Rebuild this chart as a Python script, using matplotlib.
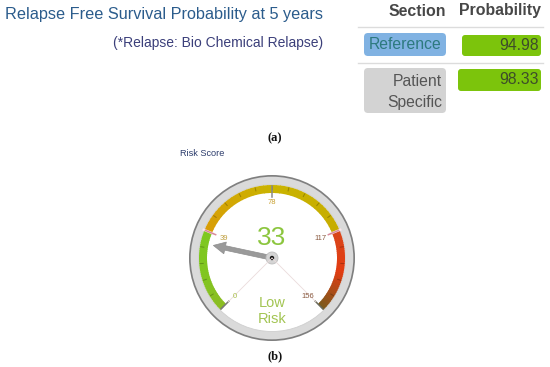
import numpy as np
import matplotlib
matplotlib.use('Agg')
import matplotlib.pyplot as plt
from matplotlib.patches import Wedge, Circle, FancyBboxPatch, FancyArrow
from matplotlib.colors import to_rgb

# ---------------- data ----------------
title = "Relapse Free Survival Probability at 5 years"
subtitle = "(*Relapse: Bio Chemical Relapse)"
table_headers = ["Section", "Probability"]
sections = ["Reference", "Patient\nSpecific"]
probabilities = [94.98, 98.33]
gauge_title = "Risk Score"
gauge_min, gauge_max = 0, 156
gauge_ticks = [0, 39, 78, 117, 156]
band_edges = [0, 39, 117, 156]
risk_score = 33
risk_level = "Low\nRisk"
panel_labels = ["(a)", "(b)"]

# ---------------- figure ----------------
W, H = 550, 367
fig = plt.figure(figsize=(5.5, 3.67), dpi=100)
ax = fig.add_axes([0, 0, 1, 1])
ax.set_xlim(0, W)
ax.set_ylim(0, H)
ax.set_aspect('equal')
ax.axis('off')


def Y(y):
    return H - y


sans = ['Liberation Sans', 'DejaVu Sans']
serif = ['Liberation Serif', 'DejaVu Serif']

# ---------------- panel (a) ----------------
ax.text(5, Y(15), title, fontsize=11.7, color='#2b5c8c', family=sans,
        ha='left', va='center')
ax.text(323, Y(43), subtitle, fontsize=10.0, color='#3b3f7a', family=sans,
        ha='right', va='center')

# table header
ax.text(446, Y(11), table_headers[0], ha='right', va='center', fontsize=11.4,
        fontweight='bold', color='#474747', family=sans)
ax.text(541, Y(11), table_headers[1], ha='right', va='center', fontsize=11.4,
        fontweight='bold', color='#474747', family=sans)
for yl in (27, 63):
    ax.plot([358, 543], [Y(yl), Y(yl)], color='#dcdcdc', lw=1.0)

sec_styles = [
    dict(y0=33, y1=56, fc='#80b2e2', tc='#2d7a7e'),
    dict(y0=68, y1=113, fc='#d3d3d3', tc='#555555'),
]
prob_styles = [
    dict(x0=462, y0=35, y1=56),
    dict(x0=458, y0=69, y1=91),
]
fs_cell = 11.3
for name, prob, ss, ps in zip(sections, probabilities, sec_styles, prob_styles):
    bx = FancyBboxPatch((364, Y(ss['y1'])), 82, ss['y1'] - ss['y0'],
                        boxstyle='round,pad=0,rounding_size=4',
                        fc=ss['fc'], ec='none')
    ax.add_patch(bx)
    lines = name.split('\n')
    if len(lines) == 1:
        ax.text(442, Y((ss['y0'] + ss['y1']) / 2), name, ha='right', va='center',
                fontsize=fs_cell, color=ss['tc'], family=sans)
    else:
        ax.text(442, Y(81), lines[0], ha='right', va='center',
                fontsize=fs_cell, color=ss['tc'], family=sans)
        ax.text(442, Y(102), lines[1], ha='right', va='center',
                fontsize=fs_cell, color=ss['tc'], family=sans)
    gb = FancyBboxPatch((ps['x0'], Y(ps['y1'])), 541 - ps['x0'], ps['y1'] - ps['y0'],
                        boxstyle='round,pad=0,rounding_size=3',
                        fc='#7cc40c', ec='none')
    ax.add_patch(gb)
    ax.text(539, Y((ps['y0'] + ps['y1']) / 2), f"{prob:.2f}", ha='right', va='center',
            fontsize=fs_cell, color='#3d4d2a', family=sans)

ax.text(275, Y(138), panel_labels[0], ha='center', va='center', fontsize=9,
        fontweight='bold', color='#111111', family=serif)

# ---------------- panel (b): gauge ----------------
ax.text(202, Y(154), gauge_title, ha='center', va='center', fontsize=6.6,
        color='#2c3c6c', family=sans)

cx, cy = 272, Y(258)
R_out, R_ring, R_band, band_w = 83, 81.3, 73, 8


def ang(v):
    return 225 - (v - gauge_min) / (gauge_max - gauge_min) * 270


def pt(v, r):
    a = np.deg2rad(ang(v))
    return cx + r * np.cos(a), cy + r * np.sin(a)


ax.add_patch(Circle((cx, cy), R_out, fc='#7f7f7f', ec='none'))
ax.add_patch(Circle((cx, cy), R_ring, fc='#dadada', ec='none'))
ax.add_patch(Circle((cx, cy), R_band + 0.5, fc='white', ec='#cfcfcf', lw=0.6))

band_grad = [
    ['#8cbc22', '#80c620', '#7ec820'],
    ['#d99c06', '#cab400', '#c6ac00'],
    ['#d8461a', '#e23c12', '#7a5a1c'],
]
for (v1, v2), stops in zip(zip(band_edges[:-1], band_edges[1:]), band_grad):
    n = 40
    vs = np.linspace(v1, v2, n + 1)
    cols = [np.array(to_rgb(c)) for c in stops]
    for i in range(n):
        t = (i + 0.5) / n
        if t < 0.5:
            c = cols[0] + (cols[1] - cols[0]) * (t / 0.5)
        else:
            c = cols[1] + (cols[2] - cols[1]) * ((t - 0.5) / 0.5)
        ax.add_patch(Wedge((cx, cy), R_band, ang(vs[i + 1]) - 0.3, ang(vs[i]) + 0.3,
                           width=band_w, fc=tuple(c), ec='none'))

# minor ticks
step = (gauge_ticks[1] - gauge_ticks[0]) / 5
for v in np.arange(gauge_min, gauge_max + 0.01, step):
    x1, y1 = pt(v, R_band - 1)
    x2, y2 = pt(v, R_band - 4)
    ax.plot([x1, x2], [y1, y2], color='#000000', alpha=0.25, lw=0.7)

# boundaries highlight
for v in band_edges[1:-1]:
    x1, y1 = pt(v, R_band + 1)
    x2, y2 = pt(v, R_band - band_w - 1)
    ax.plot([x1, x2], [y1, y2], color='#fbe6ea', lw=1.6)

# major ticks
tick_cols = ['#7a7a7a', '#d88a9a', '#8a8a8a', '#d88a9a', '#6a6a5a']
for v, tc in zip(gauge_ticks, tick_cols):
    x1, y1 = pt(v, R_band - 1)
    x2, y2 = pt(v, R_band - 12)
    ax.plot([x1, x2], [y1, y2], color=tc, lw=1.1)

# pointer range lines
for v in (gauge_min, gauge_max):
    x2, y2 = pt(v, R_band - band_w - 3)
    ax.plot([cx, x2], [cy, y2], color='#eadcdc', lw=0.6)

# tick labels
lab_cols = ['#a8c04a', '#c0a040', '#c8a030', '#8a5a40', '#8a5a40']
lab_r = [55, 52, 55, 52, 55]
for v, lc, r in zip(gauge_ticks, lab_cols, lab_r):
    x, y = pt(v, r)
    if v == gauge_min:
        x += 2
    if v == gauge_max:
        x -= 3
    ax.text(x, y, str(v), ha='center', va='center', fontsize=5.5, color=lc,
            family=sans)

# value and level text
ax.text(cx, Y(238), str(risk_score), ha='center', va='center', fontsize=19,
        color='#8cc63f', family=sans)
lv = risk_level.split('\n')
ax.text(cx, Y(303), lv[0], ha='center', va='center', fontsize=10.5,
        color='#a3c553', family=sans)
ax.text(cx, Y(319), lv[1], ha='center', va='center', fontsize=10.5,
        color='#a3c553', family=sans)

# needle
tx, ty = pt(risk_score, 60)
ax.add_patch(FancyArrow(cx, cy, tx - cx, ty - cy, width=4.5, head_width=12,
                        head_length=12, length_includes_head=True,
                        fc='#9a9a9a', ec='#8e8e8e', lw=0.5))
ax.add_patch(Circle((cx, cy), 6, fc='#d4d4d4', ec='#bdbdbd', lw=0.6))
ax.add_patch(Circle((cx, cy), 2.2, fc='#111111', ec='none'))

ax.text(275, Y(356), panel_labels[1], ha='center', va='center', fontsize=9,
        fontweight='bold', color='#111111', family=serif)

fig.savefig('out.png', dpi=100)
